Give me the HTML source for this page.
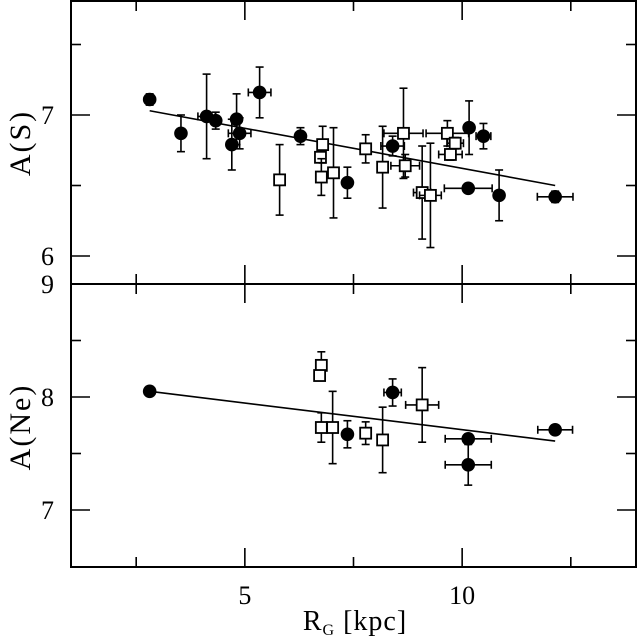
<!DOCTYPE html>
<html><head><meta charset="utf-8">
<style>
html,body{margin:0;padding:0;background:#fff;}
svg{display:block;}
text{font-family:"Liberation Serif",serif;fill:#000;}
</style></head>
<body>
<svg id="chart" width="637" height="638" viewBox="0 0 637 638" xmlns="http://www.w3.org/2000/svg"></svg>
<script>
// ---- Data: top panel A(S) ----
const sX  = [2.81,3.53,4.12,4.33,4.81,4.88,4.70,5.34,6.28,6.79,6.74,6.76,7.04,5.80,7.36,7.78,8.40,8.17,8.65,8.69,9.08,9.27,9.66,10.16,10.49,9.84,9.73,10.14,10.85,12.14];
const sY  = [7.11,6.87,6.99,6.96,6.97,6.87,6.79,7.16,6.85,6.79,6.70,6.56,6.59,6.54,6.52,6.76,6.78,6.63,6.87,6.64,6.45,6.43,6.87,6.91,6.85,6.80,6.72,6.48,6.43,6.42];
const sEx = [0,0,0.2,0,0,0.26,0,0.26,0,0,0,0,0,0,0,0,0.27,0,0.45,0.33,0.2,0.25,0.49,0,0.17,0.19,0.27,0.55,0,0.41];
const sEy = [0.04,0.13,0.30,0.06,0.18,0.11,0.18,0.18,0.06,0.13,0,0.13,0.32,0.25,0.11,0.10,0.07,0.29,0.32,0.08,0.33,0.37,0.09,0.19,0.09,0.04,0.04,0,0.18,0.04];
const sType = ["f","f","f","f","f","f","f","f","f","o","o","o","o","o","f","o","f","o","o","o","o","o","o","f","f","o","o","f","f","f"];
const sFitX = [2.81,12.14];
const sFitY = [7.03,6.50];
// ---- Data: bottom panel A(Ne) ----
const nX  = [2.81,6.76,6.72,8.40,9.08,6.76,7.02,7.36,7.78,8.17,10.14,10.14,12.14];
const nY  = [8.05,8.28,8.19,8.04,7.93,7.73,7.73,7.67,7.68,7.62,7.63,7.40,7.71];
const nEx = [0,0,0,0.2,0.38,0,0,0,0,0,0.53,0.53,0.4];
const nEy = [0.03,0.12,0,0.12,0.33,0.13,0.32,0.12,0.10,0.29,0,0.18,0.03];
const nType = ["f","o","o","f","o","o","o","f","o","o","f","f","f"];
const nFitX = [2.81,12.14];
const nFitY = [8.05,7.61];
const xTicksMajor = [5,10];
const xTicksMinor = [2.5,7.5,12.5];

const svg = document.getElementById('chart');
const NS = 'http://www.w3.org/2000/svg';
const L=71, R=636, T=1, MID=284, B=567;
const xs = v => L + (v-1)*(R-L)/13;
const ysTop = v => 115 - (v-7)*141;
const ysBot = v => 510 - (v-7)*113;

function mk(tag, attrs, parent){
  const e=document.createElementNS(NS,tag);
  for(const k in attrs) e.setAttribute(k,attrs[k]);
  (parent||svg).appendChild(e); return e;
}
function line(x1,y1,x2,y2,w,g){ return mk('line',{x1,y1,x2,y2,stroke:'#000','stroke-width':w||1.6},g); }

const frame = mk('rect',{x:L,y:T,width:R-L,height:B-T,fill:'none',stroke:'#000','stroke-width':2});


const div = line(L,MID,R,MID,2);



const tg = mk('g',{});


xTicksMajor.forEach(v=>{
  const x=xs(v);
  line(x,T,x,T+19,1.6,tg); line(x,MID-19,x,MID+19,1.6,tg); line(x,B,x,B-19,1.6,tg);
});
xTicksMinor.forEach(v=>{
  const x=xs(v);
  line(x,T,x,T+10,1.6,tg); line(x,MID-10,x,MID+10,1.6,tg); line(x,B,x,B-10,1.6,tg);
});
xTicksMajor.forEach(v=>{
  const t=mk('text',{x:xs(v),y:604,'font-size':26,'text-anchor':'middle'});
  t.textContent=v;
  
  
});

function yTicks(fn, majors, minors, name){
  const g=mk('g',{});
  
  
  majors.forEach(v=>{ const y=fn(v); line(L,y,L+19,y,1.6,g); line(R,y,R-19,y,1.6,g); });
  minors.forEach(v=>{ const y=fn(v); line(L,y,L+10,y,1.6,g); line(R,y,R-10,y,1.6,g); });
}
yTicks(ysTop,[6,7],[6.5,7.5],'top-y-ticks');
yTicks(ysBot,[7,8],[7.5,8.5],'bottom-y-ticks');
function yLabel(txt,y){
  const t=mk('text',{x:54,y:y+9,'font-size':26,'text-anchor':'end'});
  t.textContent=txt;
  
  
}
yLabel('7',ysTop(7)); yLabel('6',ysTop(6)); yLabel('9',ysBot(9)); yLabel('8',ysBot(8)); yLabel('7',ysBot(7));

const t1=mk('text',{x:0,y:0,'font-size':30,'letter-spacing':2,'text-anchor':'middle',transform:'translate(30,143) rotate(-90)'});
t1.textContent='A(S)';


const t2=mk('text',{x:0,y:0,'font-size':30,'letter-spacing':2,'text-anchor':'middle',transform:'translate(30,427) rotate(-90)'});
t2.textContent='A(Ne)';


const xt=mk('text',{x:355,y:630,'font-size':28,'letter-spacing':1,'text-anchor':'middle'});


xt.innerHTML='R<tspan font-size="16" dy="5">G</tspan><tspan dy="-5"> [kpc]</tspan>';

function drawPanel(X,Y,EX,EY,TYPE,fn,fx,fy,name){
  const g=mk('g',{});
  
  
  const fit=line(xs(fx[0]),fn(fy[0]),xs(fx[1]),fn(fy[1]),1.6,g);
  
  
  for(let i=0;i<X.length;i++){
    const cx=xs(X[i]), cy=fn(Y[i]);
    const dy=Math.abs(fn(Y[i]+EY[i])-cy), dx=xs(X[i]+EX[i])-cx;
    if(dy>0.5){ line(cx,cy-dy,cx,cy+dy,1.6,g); line(cx-4,cy-dy,cx+4,cy-dy,1.6,g); line(cx-4,cy+dy,cx+4,cy+dy,1.6,g); }
    if(dx>0.5){ line(cx-dx,cy,cx+dx,cy,1.6,g); line(cx-dx,cy-4,cx-dx,cy+4,1.6,g); line(cx+dx,cy-4,cx+dx,cy+4,1.6,g); }
    let m;
    if(TYPE[i]==='f'){
      m=mk('circle',{cx,cy,r:6.8,fill:'#000'},g);
    } else {
      m=mk('rect',{x:cx-5.5,y:cy-5.5,width:11,height:11,fill:'#fff',stroke:'#000','stroke-width':1.8},g);
    }
    
    
  }
}
drawPanel(sX,sY,sEx,sEy,sType,ysTop,sFitX,sFitY,'sulfur-series');
drawPanel(nX,nY,nEx,nEy,nType,ysBot,nFitX,nFitY,'neon-series');
</script>
</body></html>
